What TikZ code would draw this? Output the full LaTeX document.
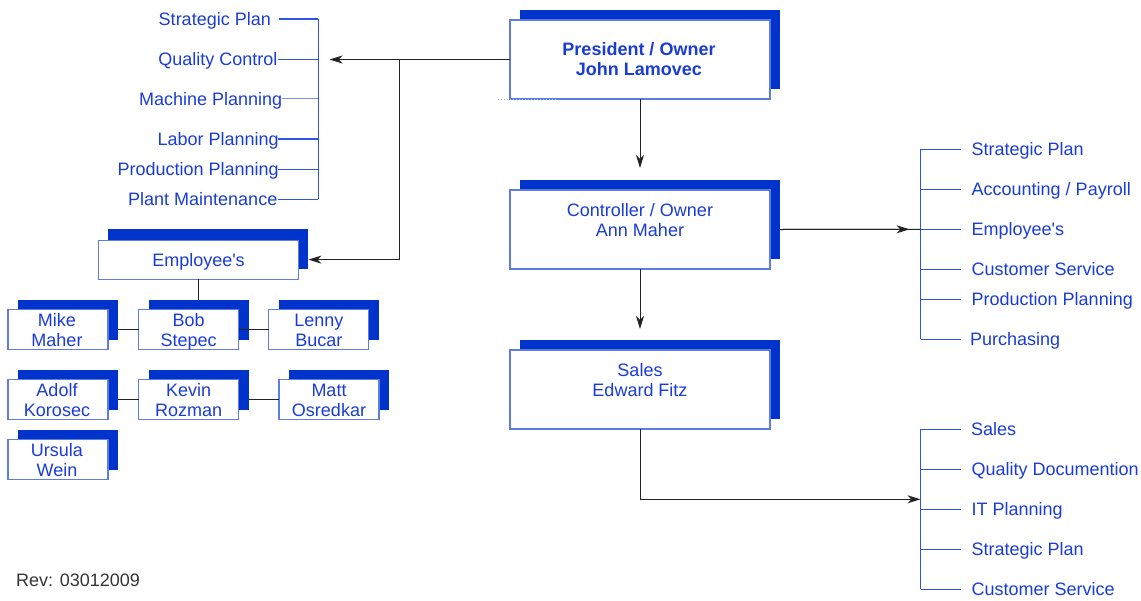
\documentclass[tikz,border=0pt]{standalone}
\usepackage{fontspec}
\setmainfont{Liberation Sans}[Ligatures=TeXOff]
\usetikzlibrary{arrows.meta,calc}
\definecolor{shblue}{RGB}{0,51,204}
\definecolor{bxline}{RGB}{95,125,225}
\definecolor{txblue}{RGB}{25,60,215}
\definecolor{brk}{RGB}{45,85,225}
\definecolor{conn}{RGB}{35,35,35}
\begin{document}
\begin{tikzpicture}[x=1pt,y=-1pt,
 shad/.style={fill=shblue,draw=none,inner sep=0pt,outer sep=0pt},
 wbox/.style={fill=white,draw=bxline,line width=1.2pt,inner sep=0pt,outer sep=0pt},
 big/.style={minimum width=260pt,minimum height=79pt},
 small/.style={minimum width=100pt,minimum height=40pt},
 txt/.style={text=txblue,font=\fontsize{18}{20}\selectfont,inner sep=0pt,anchor=base},
 btxt/.style={txt,font=\fontsize{18}{20}\selectfont\bfseries},
 ltxt/.style={txt,anchor=base east},
 rtxt/.style={txt,anchor=base west},
 brline/.style={draw=brk,line width=1.2pt},
 conline/.style={draw=conn,line width=1pt},
 arr/.style={conline,-{Stealth[length=13pt,width=8pt,inset=4pt]}}
]
\useasboundingbox (0,0) rectangle (1141,600);

% ---------- shadows ----------
\node[shad,big] (presS) at (650,49) {};
\node[shad,big] (conS) at (650,219) {};
\node[shad,big] (salS) at (650,379.5) {};
\node[shad,minimum width=200pt,minimum height=40pt] (empS) at (208.4,249.2) {};
\node[shad,small] (mikeS) at (68.3,319.7) {};
\node[shad,small] (bobS) at (198.5,319.7) {};
\node[shad,small] (lennyS) at (329,319.7) {};
\node[shad,small] (adolfS) at (68.3,389.5) {};
\node[shad,small] (kevinS) at (198.5,389.5) {};
\node[shad,small] (mattS) at (338.7,389.5) {};
\node[shad,small] (ursulaS) at (68.3,450) {};

% ---------- white boxes ----------
\node[wbox,big] (pres) at (640,59.5) {};
\node[wbox,big] (con) at (640,229.5) {};
\node[wbox,big] (sal) at (640,389.5) {};
\node[wbox,minimum width=200pt,minimum height=39pt] (emp) at (198.5,259.6) {};
\node[wbox,small] (mike) at (58,329.3) {};
\node[wbox,small] (bob) at (188.7,329.3) {};
\node[wbox,small] (lenny) at (318.8,329.3) {};
\node[wbox,small] (adolf) at (58,399.7) {};
\node[wbox,small] (kevin) at (188.7,399.7) {};
\node[wbox,small] (matt) at (329,399.7) {};
\node[wbox,small] (ursula) at (58,459.7) {};

\draw[bxline!55,dotted,line width=1pt] (498,99.5) -- (558,99.5);

% ---------- box texts ----------
\node[btxt] (presT1) at (639,55) {President / Owner};
\node[btxt] (presT2) at (639,75) {John Lamovec};
\node[txt] (conT1) at (640,216) {Controller / Owner};
\node[txt] (conT2) at (640,236) {Ann Maher};
\node[txt] (salT1) at (640,376) {Sales};
\node[txt] (salT2) at (640,396) {Edward Fitz};
\node[txt] (empT) at (198.5,266) {Employee's};
\node[txt] (mikeT1) at (57,326) {Mike};
\node[txt] (mikeT2) at (57,346) {Maher};
\node[txt] (bobT1) at (188.7,326) {Bob};
\node[txt] (bobT2) at (188.7,346) {Stepec};
\node[txt] (lennyT1) at (318.8,326) {Lenny};
\node[txt] (lennyT2) at (318.8,346) {Bucar};
\node[txt] (adolfT1) at (57,396) {Adolf};
\node[txt] (adolfT2) at (57,416) {Korosec};
\node[txt] (kevinT1) at (188.7,396) {Kevin};
\node[txt] (kevinT2) at (188.7,416) {Rozman};
\node[txt] (mattT1) at (329,396) {Matt};
\node[txt] (mattT2) at (329,416) {Osredkar};
\node[txt] (ursulaT1) at (57,456) {Ursula};
\node[txt] (ursulaT2) at (57,476) {Wein};

% ---------- person connectors ----------
\draw[conline] (mikeS.east |- mike.east) -- (bob.west);
\draw[conline] (bob.east) -- (lenny.west);
\draw[conline] (adolfS.east |- adolf.east) -- (kevin.west);
\draw[conline] (kevinS.east |- kevin.east) -- (matt.west);
\draw[conline] (emp.south) -- (bobS.north);

% ---------- left bracket ----------
\coordinate (lbt) at (318.3,19);
\coordinate (lbb) at (318.3,199.3);
\draw[brline] (lbt) -- (lbb);
\node[ltxt] (l1) at (271,25.5) {Strategic Plan};
\node[ltxt] (l2) at (277.5,65.5) {Quality Control};
\node[ltxt] (l3) at (282.5,105) {Machine Planning};
\node[ltxt] (l4) at (279,145.5) {Labor Planning};
\node[ltxt] (l5) at (279,175.5) {Production Planning};
\node[ltxt] (l6) at (277.5,205.5) {Plant Maintenance};
\draw[brline] (279,19) -- (lbt);
\draw[brline] (278,59.3) -- (lbt |- 0,59.3);
\draw[brline,draw=brk!65] (282,98.7) -- (lbt |- 0,98.7);
\draw[brline] (278,139) -- (lbt |- 0,139);
\draw[brline] (278,169.3) -- (lbt |- 0,169.3);
\draw[brline] (278,199.3) -- (lbb);

% ---------- right bracket 1 ----------
\coordinate (r1t) at (920.5,149.3);
\coordinate (r1b) at (920.5,339.3);
\draw[brline] (r1t) -- (r1b);
\foreach \yy in {149.3,189.3,229.3,269.3,299.3,339.3}
  \draw[brline] (r1t |- 0,\yy) -- (961,\yy);
\node[rtxt] (r11) at (971.5,155.3) {Strategic Plan};
\node[rtxt] (r12) at (971.5,195.3) {Accounting / Payroll};
\node[rtxt] (r13) at (971.5,235.3) {Employee's};
\node[rtxt] (r14) at (971.5,275.3) {Customer Service};
\node[rtxt] (r15) at (971.5,305.3) {Production Planning};
\node[rtxt] (r16) at (970,345.3) {Purchasing};

% ---------- right bracket 2 ----------
\coordinate (r2t) at (920.5,429.3);
\coordinate (r2b) at (920.5,589.3);
\draw[brline] (r2t) -- (r2b);
\foreach \yy in {429.3,469.3,509.3,549.3,589.3}
  \draw[brline] (r2t |- 0,\yy) -- (961,\yy);
\node[rtxt] (r21) at (971,435.3) {Sales};
\node[rtxt] (r22) at (971.5,475.3) {Quality Documention};
\node[rtxt] (r23) at (971.5,515.3) {IT Planning};
\node[rtxt] (r24) at (971.5,555.3) {Strategic Plan};
\node[rtxt] (r25) at (971.5,595.3) {Customer Service};

% ---------- main connectors ----------
\coordinate (leftTip) at (329.5,59.5);
\coordinate (branch) at (399,59.5);
\draw[arr] (pres.west) -- (leftTip);
\draw[arr] (branch) |- (empS.east |- emp.east);
\draw[arr] (pres.south) -- ([yshift=22pt]con.north);
\draw[arr] (con.south) -- ([yshift=21pt]sal.north);
\coordinate (r1mid) at (920.5,229.3);
\draw[conline] (conS.east |- con.east) -- (r1mid);
\draw[arr] (conS.east |- con.east) -- ([xshift=-11pt]r1mid);
\coordinate (r2mid) at (920.5,499.3);
\draw[arr] (sal.south) |- (r2mid);

\node[anchor=base west,inner sep=0pt,text=black!80,font=\fontsize{18}{20}\selectfont] (rev) at (16,586) {Rev: 03012009};
\end{tikzpicture}
\end{document}
